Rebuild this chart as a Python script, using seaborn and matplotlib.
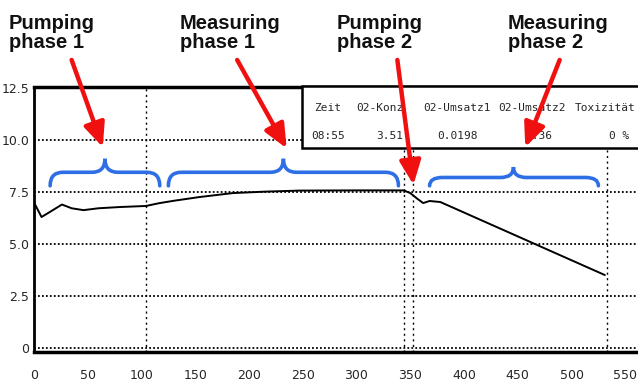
import matplotlib
matplotlib.use("Agg")
import matplotlib.pyplot as plt
import seaborn as sns
from matplotlib import font_manager
from matplotlib.path import Path
from matplotlib.patches import PathPatch, Rectangle

# O2 concentration curve
zeit = [0, 2, 7, 15, 26, 35, 46, 60, 80, 104, 117, 130, 154, 185, 215, 247,
        300, 344, 350, 356, 362, 368, 378, 531]
o2_konz = [7.0, 6.8, 6.3, 6.55, 6.9, 6.72, 6.63, 6.72, 6.78, 6.83, 6.97, 7.08,
           7.26, 7.45, 7.52, 7.57, 7.58, 7.58, 7.45, 7.2, 6.97, 7.07, 7.02, 3.51]

x_ticks = [0, 50, 100, 150, 200, 250, 300, 350, 400, 450, 500, 550]
x_labels = [str(v) for v in x_ticks]
y_ticks = [0, 2.5, 5.0, 7.5, 10.0, 12.5]
y_labels = ["0", "2.5", "5.0", "7.5", "10.0", "12.5"]
marker_lines = [104, 344, 353, 533]

phase_titles = ["Pumping\nphase 1", "Measuring\nphase 1", "Pumping\nphase 2", "Measuring\nphase 2"]
title_x_px = [9, 180, 337, 508]
# arrow tails / tips (data units)
arrow_tails = [(35, 13.85), (189, 13.85), (338, 13.85), (489, 13.85)]
arrow_tips = [(64, 9.66), (235, 9.6), (353, 7.85), (457, 9.66)]
# braces: x0, x1, peak x, end y, flat y, peak y
braces = [(15, 117, 66, 7.8, 8.45, 9.1),
          (125, 339, 232, 7.8, 8.45, 9.1),
          (368, 525, 446, 7.8, 8.2, 8.7)]

table_head = ["Zeit", "02-Konz", "02-Umsatz1", "02-Umsatz2", "Toxizität"]
table_vals = ["08:55", "3.51", "0.0198", "1.36", "0 %"]

sns.set_style("white")
names = {f.name for f in font_manager.fontManager.ttflist}
tick_font = "Liberation Sans Narrow" if "Liberation Sans Narrow" in names else "DejaVu Sans"
mono_font = "DejaVu Sans Mono"

fig = plt.figure(figsize=(6.38, 3.85), dpi=100)
ax = fig.add_axes([34 / 638, 33 / 385, 602 / 638, 265 / 385])

sns.lineplot(x=zeit, y=o2_konz, color="black", linewidth=1.4, ax=ax, zorder=4)

ax.set_xlim(0, 560)
ax.set_ylim(-0.19, 12.55)
ax.set_xticks(x_ticks)
ax.set_xticklabels(x_labels, fontfamily=tick_font, fontsize=9)
ax.set_xticks(range(25, 560, 50), minor=True)
ax.set_yticks(y_ticks)
ax.set_yticklabels(y_labels, fontfamily=tick_font, fontsize=9)
ax.set_yticks([1.25, 3.75, 6.25, 8.75, 11.25], minor=True)
ax.tick_params(which="both", direction="in", color="black", width=1.2)
ax.tick_params(which="major", length=5)
ax.tick_params(which="minor", length=3)
ax.tick_params(axis="x", pad=12.5)
ax.tick_params(axis="y", pad=3.5)

for v in y_ticks:
    ax.axhline(v, color="black", linestyle=(0, (1, 1.2)), linewidth=1.3, zorder=1)
for v in marker_lines:
    ax.axvline(v, color="black", linestyle=(0, (1.5, 2.5)), linewidth=1.0, zorder=1)

for side in ["left", "bottom", "top"]:
    ax.spines[side].set_color("black")
ax.spines["left"].set_linewidth(2)
ax.spines["bottom"].set_linewidth(2.5)
ax.spines["top"].set_linewidth(2.5)
ax.spines["right"].set_visible(False)

# readout box
ax.add_patch(Rectangle((249, 9.6), 330, 3.0, facecolor="white", edgecolor="black",
                       linewidth=1.8, clip_on=False, zorder=3))
head_x = [273.5, 322, 393.5, 463, 531]
for hx, txt in zip(head_x, table_head):
    ax.text(hx, 11.55, txt, ha="center", va="center", fontsize=8,
            fontfamily=mono_font, zorder=5)
val_pos = [(273.5, "center"), (343, "right"), (393.5, "center"), (470, "center"), (554, "right")]
for (vx, al), txt in zip(val_pos, table_vals):
    ax.text(vx, 10.2, txt, ha=al, va="center", fontsize=8,
            fontfamily=mono_font, zorder=5)

# braces
blue = "#2f6fe6"
for x0, x1, xm, yb, yf, yp in braces:
    r = 12
    verts = [(x0, yb), (x0, yf), (x0 + r, yf),
             (xm - r, yf),
             (xm, yf), (xm, yp),
             (xm, yf), (xm + r, yf),
             (x1 - r, yf),
             (x1, yf), (x1, yb)]
    codes = [Path.MOVETO, Path.CURVE3, Path.CURVE3,
             Path.LINETO,
             Path.CURVE3, Path.CURVE3,
             Path.CURVE3, Path.CURVE3,
             Path.LINETO,
             Path.CURVE3, Path.CURVE3]
    ax.add_patch(PathPatch(Path(verts, codes), facecolor="none", edgecolor=blue,
                           linewidth=2.6, capstyle="round", clip_on=False, zorder=6))

# red arrows
for tail, tip in zip(arrow_tails, arrow_tips):
    ax.annotate("", xy=tip, xytext=tail, xycoords="data", annotation_clip=False,
                arrowprops=dict(arrowstyle="-|>,head_length=0.9,head_width=0.4",
                                color="#f01010", lw=3.2, mutation_scale=16,
                                shrinkA=0, shrinkB=0), zorder=7)

for tx, title in zip(title_x_px, phase_titles):
    fig.text(tx / 638, 1 - 14 / 385, title, ha="left", va="top", fontsize=14.5,
             fontweight="bold", fontfamily="Liberation Sans", linespacing=1.02,
             color="#111111")

fig.savefig("out.png", dpi=100)
